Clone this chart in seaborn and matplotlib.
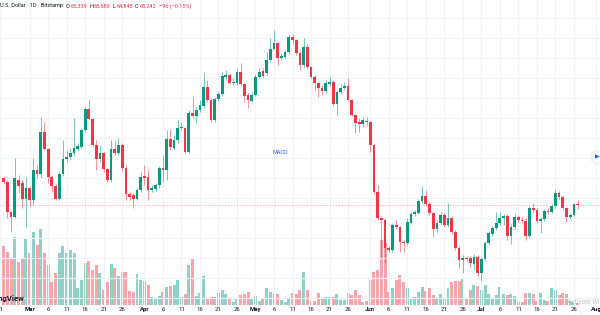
import numpy as np
import pandas as pd
import matplotlib
matplotlib.use("Agg")
import matplotlib.pyplot as plt
import matplotlib.dates as mdates
import seaborn as sns

# ---------------- data (daily candles, Feb 22 -> Jul 27) ----------------
start_date = "2023-02-22"
opens = [67900, 67500, 64500, 64000, 67700, 67400, 65800, 66900, 65700, 68700,
         68300, 72500, 70800, 68000, 67100, 65800, 68300, 69800, 70000, 70400,
         70800, 71000, 72700, 74800, 73800, 71200, 69800, 70400, 68800, 67700,
         70800, 70400, 71200, 68900, 66300, 66200, 65800, 66700, 68100, 68000,
         66700, 66800, 67200, 68900, 68700, 71800, 70900, 71700, 72900, 72900,
         70500, 74400, 74100, 74700, 75100, 77000, 75700, 73700, 75800, 76300,
         78000, 78200, 77400, 77400, 78500, 77300, 76200, 75600, 76200, 78000,
         78600, 78400, 79700, 80800, 81400, 79900, 80000, 80500, 82000, 81700,
         80400, 79200, 81000, 79000, 78000, 77400, 76900, 76600, 77300, 77500,
         75300, 76500, 76900, 77100, 75700, 74200, 73500, 73300, 73600, 73500,
         71200, 66500, 63900, 63700, 60900, 60700, 63200, 63000, 61500, 61400,
         63400, 64300, 64400, 65600, 66100, 65300, 64400, 62800, 63400, 64200,
         63200, 63900, 62500, 60900, 59700, 59900, 59900, 59300, 60000, 58400,
         59800, 61400, 62300, 62900, 63400, 63900, 64100, 62100, 63000, 64000,
         63700, 63600, 62100, 64900, 64700, 63600, 63800, 64600, 64500, 65100,
         66400, 66000, 64900, 64000, 64200, 65339]
highs = [68100, 67700, 64700, 69900, 68200, 67700, 68000, 67100, 69900, 69200,
         74000, 73500, 70900, 68200, 67300, 68500, 71700, 70700, 70900, 73900,
         71400, 72900, 75000, 75700, 73900, 71700, 71200, 70500, 68900, 71700,
         71700, 71900, 71400, 69200, 66500, 66400, 66900, 68500, 69200, 68700,
         67200, 67400, 69100, 70200, 72700, 72800, 72200, 73700, 73500, 73000,
         74700, 76000, 75000, 75700, 78400, 77700, 75900, 76000, 76500, 78500,
         78700, 78400, 77900, 78900, 79400, 77400, 76400, 76500, 78300, 78900,
         78900, 80500, 81900, 82700, 81500, 80400, 80700, 82300, 82300, 81800,
         80700, 81900, 81400, 79100, 78200, 77500, 77200, 77700, 78000, 77700,
         76700, 77300, 77500, 77900, 75800, 74300, 73900, 74000, 74000, 73600,
         71300, 67200, 64100, 63900, 61100, 63400, 63700, 63100, 61700, 63900,
         64500, 64700, 65800, 67100, 66700, 65500, 64500, 63700, 64500, 64400,
         65400, 64100, 62700, 61100, 60200, 60100, 60100, 60300, 60200, 60000,
         61600, 62600, 63100, 64500, 64500, 64300, 64300, 63300, 64400, 64200,
         64000, 63900, 65100, 65400, 64900, 64000, 64800, 64900, 65300, 66800,
         66600, 66100, 65000, 64400, 65400, 65680]
lows = [67300, 63900, 62500, 63900, 66500, 64900, 63000, 65100, 65200, 67900,
        67900, 70700, 67400, 66500, 65700, 65700, 68100, 69500, 69700, 70100,
        70600, 70900, 72500, 73700, 71000, 68700, 69500, 68500, 67500, 67500,
        70200, 70200, 68500, 65700, 65700, 64900, 65700, 66500, 67200, 65700,
        66500, 66600, 66900, 67500, 67700, 70700, 70700, 71400, 72700, 70400,
        70400, 73900, 73400, 74500, 74900, 75500, 73500, 73500, 75600, 76100,
        77700, 77300, 77200, 77200, 77100, 75500, 74900, 75500, 76100, 77900,
        77900, 78200, 79500, 80700, 79200, 79700, 79900, 80300, 81300, 80200,
        78700, 78900, 78800, 77900, 76700, 76000, 76200, 76400, 77100, 75100,
        74200, 76300, 76700, 75600, 74100, 72400, 72500, 73000, 73200, 70500,
        66300, 63700, 59900, 59400, 60500, 60500, 62800, 60500, 60500, 61200,
        63300, 64100, 64300, 65400, 65100, 64200, 62000, 62500, 63200, 63000,
        63000, 62300, 60700, 58900, 58400, 59600, 59000, 58700, 58000, 57600,
        59600, 61200, 62100, 62700, 63200, 63200, 61700, 61300, 62800, 63500,
        63400, 61700, 61900, 64500, 63400, 62400, 63600, 64300, 64400, 64900,
        65800, 64700, 63500, 63800, 64100, 64845]
closes = [67500, 64500, 64000, 67900, 67100, 65800, 66900, 65700, 68700, 68300,
          72500, 70800, 68000, 67100, 65800, 68300, 69800, 70000, 70400, 70900,
          71100, 72700, 74800, 73800, 71200, 69800, 70400, 68800, 67700, 70800,
          70400, 71200, 68900, 66300, 66000, 65800, 66700, 68000, 67900, 66700,
          66900, 67200, 68900, 68700, 71800, 71000, 71700, 72900, 73000, 70500,
          74400, 74100, 74700, 75200, 77000, 75700, 73700, 75800, 76300, 78100,
          78200, 77400, 77500, 78500, 77300, 76100, 75700, 76200, 78000, 78500,
          78100, 79700, 80800, 81400, 79900, 80100, 80500, 82000, 81700, 80400,
          79200, 81000, 79000, 78000, 77400, 76900, 76600, 77400, 77500, 75300,
          76500, 76900, 77100, 75700, 74200, 73400, 73300, 73700, 73500, 71200,
          66500, 63900, 63700, 60900, 60700, 63200, 63000, 61500, 61400, 63500,
          64300, 64500, 65600, 66100, 65300, 64400, 62800, 63400, 64200, 63200,
          63900, 62500, 60900, 59700, 59900, 59800, 59400, 60000, 58400, 59800,
          61400, 62400, 62900, 63400, 63900, 64100, 62100, 63000, 64000, 63700,
          63600, 62100, 64900, 64700, 63600, 63800, 64600, 64500, 65100, 66400,
          66000, 64900, 64000, 64200, 65300, 65242]
volumes = [5900, 5300, 4700, 6800, 4300, 4600, 6700, 5200, 7300, 6000,
           7600, 5200, 4000, 2300, 3200, 5200, 5900, 5200, 5500, 5200,
           1700, 2500, 4200, 4400, 3500, 4000, 3200, 1500, 2300, 4100,
           3700, 2900, 3300, 3300, 1400, 1300, 3100, 2500, 2400, 2000,
           800, 600, 900, 1300, 1800, 1900, 2000, 2500, 800, 1100,
           4000, 4600, 900, 1200, 2900, 600, 800, 800, 1200, 1500,
           1100, 600, 300, 700, 1000, 1100, 1300, 600, 900, 400,
           600, 1700, 1300, 1100, 1100, 500, 300, 700, 1200, 1100,
           1500, 3300, 1500, 400, 400, 1200, 600, 800, 800, 800,
           1100, 500, 500, 1200, 1000, 1500, 1000, 300, 400, 2500,
           3300, 3500, 6500, 6200, 1300, 1700, 2500, 3000, 2300, 1700,
           700, 800, 1300, 1800, 1400, 1700, 1000, 700, 1100, 600,
           1700, 2300, 2400, 2400, 2600, 700, 1500, 2000, 1900, 1500,
           2000, 1100, 600, 1000, 1800, 1100, 1000, 1100, 900, 300,
           300, 1200, 1200, 1100, 400, 1200, 500, 400, 1700, 1500,
           1000, 1200, 1100, 400, 300, 200]

tick_dates = ["2023-02-21",
              "2023-03-01", "2023-03-06", "2023-03-11", "2023-03-16", "2023-03-21", "2023-03-26",
              "2023-04-01", "2023-04-06", "2023-04-11", "2023-04-16", "2023-04-21", "2023-04-26",
              "2023-05-01", "2023-05-06", "2023-05-11", "2023-05-16", "2023-05-21", "2023-05-26",
              "2023-06-01", "2023-06-06", "2023-06-11", "2023-06-16", "2023-06-21", "2023-06-26",
              "2023-07-01", "2023-07-06", "2023-07-11", "2023-07-16", "2023-07-21", "2023-07-26",
              "2023-08-01"]
tick_labels = ["21", "Mar", "6", "11", "16", "21", "26", "Apr", "6", "11", "16", "21", "26",
               "May", "6", "11", "16", "21", "26", "Jun", "6", "11", "16", "21", "26",
               "Jul", "6", "11", "16", "21", "26", "Aug"]

header_title = "U.S. Dollar · 1D · Bitstamp"
header_parts = [("O", "65,339"), ("H", "65,680"), ("L", "64,845"), ("C", "65,242")]
header_change = "−96 (−0.15%)"

# ---------------- build frame ----------------
dates = pd.date_range(start_date, periods=len(opens), freq="D")
df = pd.DataFrame({"date": dates, "open": opens, "high": highs, "low": lows,
                   "close": closes, "volume": volumes})
df["x"] = mdates.date2num(df["date"])
df["up"] = df["close"] >= df["open"]

UP = "#089981"
DOWN = "#F23645"
TXT = "#131722"
GRID = "#f0f3f7"

sns.set_theme(style="white")
plt.rcParams["font.family"] = ["Roboto", "DejaVu Sans"]

W, H = 600, 315
fig = plt.figure(figsize=(W / 100, H / 100), dpi=100)
fig.patch.set_facecolor("white")
ax = fig.add_axes([0, 10 / H, 1, 305 / H])
axv = ax.twinx()
ax.set_zorder(axv.get_zorder() + 1)
ax.patch.set_visible(False)

# volume (background)
sns.barplot(data=df, x="x", y="volume", hue="up",
            palette={True: UP, False: DOWN}, native_scale=True, dodge=False,
            width=0.8, alpha=0.45, saturation=1, errorbar=None, legend=False,
            ax=axv, linewidth=0)
axv.set_ylim(0, 30500)
axv.set_yticks([])
axv.set_ylabel("")
axv.set_xlabel("")

# candles
colors = np.where(df["up"], UP, DOWN)
ax.vlines(df["x"], df["low"], df["high"], colors=colors, lw=0.7, alpha=0.55, zorder=3)
body_lo = np.minimum(df["open"], df["close"])
body_h = np.maximum((df["close"] - df["open"]).abs(), 70)
ax.bar(df["x"], body_h, bottom=body_lo, width=0.74, color=colors, linewidth=0, zorder=4)

# current price line
ax.axhline(closes[-1], color=DOWN, lw=0.6, ls=(0, (1.5, 2)), alpha=0.45, zorder=2)

# axes limits / grid
x0 = mdates.date2num(pd.Timestamp(start_date))
ax.set_xlim(x0 - 0.54, x0 + 161.05)
axv.set_xlim(x0 - 0.54, x0 + 161.05)
ax.set_ylim(55200, 85700)
ax.set_yticks(np.arange(55900, 85700, 2000))
ax.set_yticklabels([])
tick_x = mdates.date2num(pd.to_datetime(tick_dates))
ax.set_xticks(tick_x)
ax.set_xticklabels(tick_labels)
ax.grid(True, color=GRID, lw=0.8, zorder=0)
ax.set_axisbelow(True)
ax.tick_params(axis="x", length=0, pad=1.6, labelsize=4.3, labelcolor=TXT)
ax.tick_params(axis="y", length=0)
for lab in ax.get_xticklabels():
    if not lab.get_text().isdigit():
        lab.set_fontweight("bold")
axv.tick_params(axis="x", length=0, labelbottom=False)
for a in (ax, axv):
    for s in a.spines.values():
        s.set_visible(False)

# ---------------- overlay texts ----------------
def fx(px):
    return px / W

def fy(py):
    return 1 - py / H

hfs = 4.0
prev = fig.text(fx(0), fy(6), header_title, color=TXT, fontsize=hfs, va="center", ha="left")
gap_first = 2.2
for letter, value in header_parts:
    lt = ax.annotate(letter, xy=(1, 0.5), xycoords=prev, xytext=(gap_first, 0),
                     textcoords="offset points", color=TXT, fontsize=hfs,
                     va="center", ha="left", annotation_clip=False)
    prev = ax.annotate(value, xy=(1, 0.5), xycoords=lt, xytext=(0.4, 0),
                       textcoords="offset points", color=DOWN, fontsize=hfs,
                       va="center", ha="left", annotation_clip=False)
    gap_first = 1.6
ax.annotate(header_change, xy=(1, 0.5), xycoords=prev, xytext=(2.0, 0),
            textcoords="offset points", color=DOWN, fontsize=hfs,
            va="center", ha="left", annotation_clip=False)

fig.text(fx(280), fy(152), "MACD", color="#2962FF", fontsize=4.0, ha="center", va="center")
fig.text(fx(25), fy(298), "TradingView", color=TXT, fontsize=5.6, fontweight="bold",
         ha="right", va="center")
fig.text(fx(597), fy(157), "▶", color="#2962FF", fontsize=4.5, ha="center", va="center",
         family="DejaVu Sans",
         bbox=dict(boxstyle="circle,pad=0.6", fc="white", ec="#e0e3eb", lw=0.5))
fig.text(fx(567), fy(303), "Activate Windows", color="#b8b8b8", fontsize=4.7,
         ha="left", va="center", alpha=0.8)
fig.text(fx(568), fy(313.5), "Go to Settings to activate Windows.", color="#d0d0d0",
         fontsize=3.2, ha="left", va="top", alpha=0.8)

fig.savefig("out.png", dpi=100, facecolor="white")
